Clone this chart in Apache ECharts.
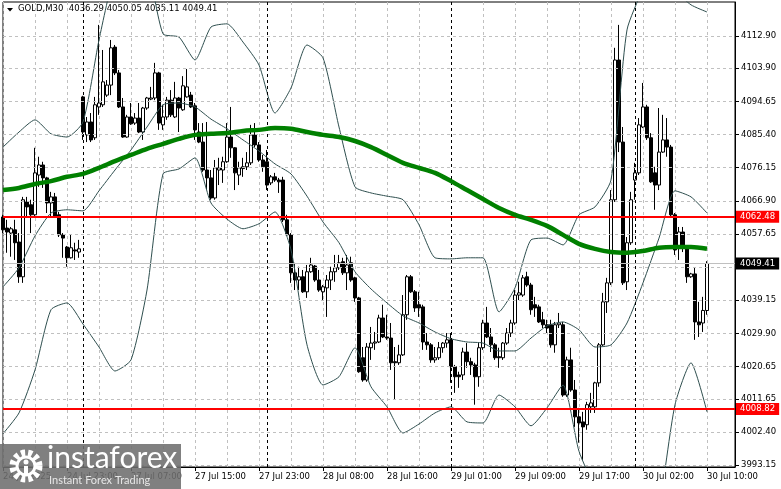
<!DOCTYPE html>
<html>
<head>
<meta charset="utf-8">
<title>GOLD,M30</title>
<script src="https://cdn.jsdelivr.net/npm/echarts@6/dist/echarts.min.js"></script>
<style>
html, body { margin: 0; padding: 0; background: #fff; }
#chart { width: 781px; height: 489px; }
</style>
</head>
<body>
<div id="chart"></div>
<script>
var symbolName = 'GOLD,M30';
var barCount = 184;

// time labels, one every 16 bars (M30)
var xLabels = ['24 Jul 2025', '24 Jul 23:00', '27 Jul 07:00', '27 Jul 15:00', '27 Jul 23:00', '28 Jul 08:00',
  '28 Jul 16:00', '29 Jul 01:00', '29 Jul 09:00', '29 Jul 17:00', '30 Jul 02:00', '30 Jul 10:00'];
var yTicks = [3993.15, 4002.40, 4011.65, 4020.65, 4029.90, 4039.15, 4048.40, 4057.65, 4066.90,
  4076.15, 4085.40, 4094.65, 4103.90, 4112.90];
var separatorBars = [20, 66, 112, 158];
var levelLines = [4062.48, 4008.82];

// [open, close, low, high]
var candles = [
  [4062.4,4058.8,4057.9,4063.0],[4059.3,4058.2,4052.4,4061.6],[4057.9,4059.1,4051.3,4059.6],[4058.8,4055.2,4050.4,4061.6],
  [4055.4,4045.7,4044.0,4057.9],[4045.7,4067.2,4044.0,4068.0],[4066.6,4065.2,4062.4,4068.0],[4065.8,4063.0,4057.9,4067.2],
  [4063.0,4074.7,4062.4,4081.7],[4074.1,4076.9,4070.8,4079.2],[4076.9,4073.3,4070.5,4077.8],[4073.3,4066.3,4063.5,4073.6],
  [4066.3,4068.0,4062.4,4069.4],[4068.0,4062.4,4062.1,4069.1],[4063.0,4057.4,4056.8,4063.8],[4057.4,4056.5,4051.0,4057.9],
  [4054.0,4051.0,4048.5,4054.3],[4051.0,4053.8,4050.8,4057.4],[4053.2,4052.9,4050.4,4055.2],[4052.6,4053.5,4051.0,4056.0],
  [4095.9,4086.1,4083.9,4096.2],[4085.3,4088.9,4083.3,4090.3],[4088.9,4083.9,4083.3,4091.4],[4084.5,4093.7,4083.9,4095.9],
  [4093.1,4094.2,4090.9,4116.0],[4093.7,4100.1,4093.1,4109.0],[4096.4,4099.2,4095.9,4100.6],[4099.2,4109.6,4096.4,4111.8],
  [4109.8,4102.6,4102.0,4110.4],[4102.6,4093.1,4092.8,4103.4],[4093.1,4084.7,4084.5,4095.6],[4084.7,4090.3,4084.5,4090.9],
  [4090.3,4088.4,4088.1,4094.2],[4088.6,4090.0,4088.1,4091.4],[4090.0,4086.1,4085.8,4094.2],[4086.1,4092.8,4083.9,4093.1],
  [4092.8,4095.6,4092.3,4095.9],[4095.3,4095.6,4095.0,4098.7],[4095.6,4102.6,4095.0,4105.4],[4102.6,4088.6,4086.7,4102.9],
  [4088.1,4090.3,4086.7,4093.7],[4090.3,4095.0,4089.5,4095.9],[4095.0,4090.9,4090.3,4097.8],[4090.3,4095.6,4090.0,4100.1],
  [4095.6,4092.8,4086.1,4095.9],[4092.3,4099.0,4092.0,4101.7],[4095.9,4098.7,4095.7,4103.7],[4096.4,4093.1,4092.8,4097.3],
  [4093.4,4086.7,4083.9,4094.2],[4086.1,4083.3,4083.0,4088.6],[4083.3,4075.5,4075.0,4088.6],[4075.5,4073.3,4069.9,4088.9],
  [4073.3,4067.7,4067.2,4075.5],[4067.7,4076.1,4067.2,4078.3],[4075.5,4076.1,4071.3,4078.9],[4075.5,4077.8,4071.9,4079.2],
  [4077.8,4084.7,4077.5,4088.6],[4084.7,4081.7,4078.9,4093.1],[4081.7,4074.7,4069.9,4081.9],[4074.1,4076.1,4071.3,4077.8],
  [4075.9,4076.4,4073.6,4078.9],[4076.4,4077.5,4075.5,4080.5],[4077.5,4085.3,4076.9,4088.1],[4085.3,4082.5,4081.9,4088.6],
  [4082.5,4078.3,4077.8,4083.3],[4078.3,4076.4,4075.0,4079.7],[4077.8,4071.3,4069.9,4081.1],[4071.9,4073.6,4071.3,4074.1],
  [4073.6,4072.7,4072.2,4074.7],[4072.7,4072.2,4069.1,4073.3],[4072.7,4061.6,4061.0,4073.6],[4061.6,4057.4,4057.2,4063.0],
  [4057.4,4046.8,4044.0,4057.9],[4046.8,4044.8,4042.0,4049.6],[4044.8,4045.7,4042.0,4048.5],[4045.7,4041.5,4041.2,4047.6],
  [4041.5,4047.1,4039.8,4049.0],[4047.1,4049.0,4046.8,4051.0],[4048.7,4044.8,4044.3,4049.0],[4044.8,4042.0,4041.5,4047.6],
  [4041.5,4042.9,4039.2,4043.4],[4042.6,4044.8,4034.5,4046.2],[4044.8,4047.1,4042.0,4048.5],[4047.1,4048.2,4044.3,4051.8],
  [4048.2,4049.6,4047.6,4051.8],[4049.9,4046.8,4046.2,4051.0],[4046.8,4049.0,4042.0,4051.8],[4049.6,4044.8,4044.3,4051.3],
  [4045.4,4039.8,4038.7,4045.7],[4039.8,4019.2,4018.9,4040.1],[4023.1,4016.9,4016.4,4026.1],[4016.9,4026.1,4016.4,4027.2],
  [4025.9,4027.2,4022.5,4031.7],[4027.2,4027.5,4025.3,4030.3],[4027.5,4034.2,4027.2,4035.1],[4034.2,4028.9,4028.6,4037.9],
  [4028.9,4028.6,4028.1,4035.1],[4028.6,4021.7,4019.7,4032.8],[4022.0,4021.7,4011.4,4026.1],[4021.7,4023.9,4021.1,4026.7],
  [4023.9,4035.1,4023.6,4040.6],[4035.1,4045.7,4033.7,4046.2],[4045.7,4041.5,4041.2,4046.2],[4041.5,4037.0,4035.9,4042.0],
  [4037.9,4037.0,4034.5,4041.5],[4037.3,4027.5,4025.3,4037.9],[4027.5,4026.7,4025.3,4030.0],[4026.7,4022.5,4021.7,4027.2],
  [4022.5,4023.1,4021.7,4026.1],[4023.1,4025.9,4022.5,4027.5],[4025.9,4027.2,4024.5,4027.5],[4027.2,4028.1,4025.9,4030.0],
  [4028.1,4020.6,4016.1,4030.0],[4020.6,4017.8,4013.3,4021.1],[4018.3,4017.8,4014.7,4019.2],[4018.3,4024.7,4016.9,4025.9],
  [4024.7,4022.0,4020.3,4027.2],[4022.0,4021.1,4018.3,4023.1],[4021.1,4017.8,4010.0,4021.7],[4017.8,4025.9,4015.0,4027.2],
  [4025.9,4032.8,4025.3,4033.7],[4032.8,4028.9,4028.6,4037.3],[4028.9,4026.7,4024.7,4031.4],[4026.7,4023.1,4022.5,4027.2],
  [4023.4,4023.1,4020.3,4025.9],[4023.1,4027.2,4022.5,4027.5],[4027.2,4030.0,4026.7,4031.4],[4030.0,4032.8,4028.9,4033.7],
  [4032.8,4040.6,4032.3,4042.0],[4040.6,4041.2,4039.2,4044.3],[4040.6,4045.4,4040.1,4046.2],[4045.7,4043.4,4042.9,4047.1],
  [4043.4,4036.5,4035.1,4044.0],[4037.9,4037.0,4034.5,4040.1],[4037.3,4033.1,4032.8,4037.9],[4033.7,4032.3,4031.4,4035.9],
  [4032.3,4031.4,4030.0,4033.7],[4032.3,4026.7,4025.9,4033.7],[4026.7,4032.3,4024.5,4033.1],[4032.3,4032.8,4031.4,4035.6],
  [4032.3,4012.7,4012.2,4033.1],[4012.7,4022.5,4012.2,4023.4],[4022.5,4014.1,4013.6,4025.9],[4014.1,4006.6,4003.8,4016.9],
  [4006.6,4004.9,3999.4,4009.1],[4005.2,4003.8,3994.6,4008.0],[4004.4,4010.0,4003.0,4010.8],[4009.4,4010.5,4007.7,4013.3],
  [4009.4,4016.1,4007.7,4016.4],[4016.1,4026.7,4015.0,4027.2],[4026.7,4038.7,4026.4,4041.2],[4038.7,4044.0,4035.6,4045.4],
  [4044.0,4067.2,4043.4,4069.9],[4067.2,4106.2,4066.6,4109.6],[4106.2,4083.3,4080.5,4116.0],[4083.3,4044.0,4043.4,4087.5],
  [4044.3,4055.2,4042.0,4056.8],[4055.2,4067.2,4054.6,4069.4],[4072.7,4074.7,4067.2,4077.5],[4074.7,4088.1,4074.1,4090.0],
  [4087.5,4093.1,4087.2,4099.8],[4093.1,4084.5,4083.9,4093.7],[4084.5,4072.2,4071.9,4085.8],[4074.7,4071.3,4064.4,4076.4],
  [4071.3,4080.5,4069.9,4092.8],[4080.5,4083.9,4080.3,4090.9],[4083.9,4081.9,4079.2,4090.0],[4081.9,4063.0,4062.4,4082.5],
  [4063.0,4053.2,4051.8,4063.5],[4053.8,4058.2,4050.4,4059.6],[4058.2,4053.8,4052.6,4059.6],[4053.8,4045.7,4044.0,4054.0],
  [4045.7,4046.5,4045.4,4046.8],[4046.5,4033.1,4028.1,4048.2],[4033.1,4032.3,4028.9,4038.7],[4032.8,4036.3,4030.3,4040.1],
  [4036.29,4049.41,4035.11,4050.05]
];

// indicator readings, every 4th bar
var bandBars = [0,4,8,12,16,20,24,28,32,36,40,44,48,52,56,60,64,68,72,76,80,84,88,92,96,100,104,108,112,116,120,
  124,128,132,136,140,144,148,152,156,160,164,168,172,176];
var upperBand = [4081.9,4086.1,4089.5,4085.6,4084.7,4088.9,4111.8,4131.0,4139.0,4133.0,4113.5,4112.6,4106.2,4115.4,4116.3,
  4111.2,4104.8,4091.4,4098.4,4110.4,4106.8,4087.5,4070.8,4069.1,4068.2,4067.2,4060.2,4051.0,4050.7,4051.0,4051.0,
  4035.9,4042.6,4056.0,4056.5,4054.6,4063.0,4065.2,4072.7,4114.6,4126.0,4134.1,4125.7,4121.6,4119.6];
var middleBand = [4042.9,4048.2,4057.1,4063.5,4064.4,4064.1,4069.7,4075.5,4081.1,4087.5,4093.7,4094.2,4093.1,4089.7,4087.0,
  4083.9,4080.8,4077.2,4074.4,4068.2,4061.0,4055.2,4047.1,4042.3,4038.4,4034.8,4032.8,4030.3,4028.4,4027.5,4027.2,
  4025.0,4025.0,4028.6,4032.0,4033.1,4030.9,4026.1,4026.7,4032.8,4044.0,4056.5,4069.7,4068.0,4063.5];
var lowerBand = [4001.9,4007.7,4019.7,4036.5,4038.4,4032.5,4026.1,4019.4,4022.5,4042.0,4074.4,4075.8,4078.9,4066.3,4061.8,
  4059.1,4060.5,4063.8,4053.2,4026.7,4015.5,4017.8,4025.9,4015.0,4009.4,4002.1,4004.6,4007.7,4009.4,4005.2,4004.9,
  4012.7,4009.4,4004.1,4009.1,4015.5,3997.0,3987.0,3980.7,3951.0,3962.0,3980.7,4010.0,4021.7,4008.0];
var maValues = [4069.9,4070.5,4071.6,4072.4,4073.6,4074.4,4076.1,4078.0,4079.7,4081.4,4082.8,4084.2,4085.3,4085.6,4085.8,
  4086.4,4086.7,4087.2,4087.0,4086.1,4085.3,4084.7,4083.6,4081.9,4079.7,4077.5,4076.1,4074.7,4072.4,4069.9,4067.4,
  4064.9,4063.0,4061.6,4059.9,4057.4,4054.9,4053.5,4052.6,4052.4,4052.9,4053.8,4054.0,4054.0,4053.5];

var categories = [];
for (var i = 0; i < barCount; i++) categories.push(String(i));
var last = candles[candles.length - 1];
var lastPrice = last[1];
var font = '"DejaVu Sans", sans-serif';

function pairs(vals) {
  return bandBars.map(function (b, k) { return [b, vals[k]]; });
}
function bandSeries(name, vals) {
  return {
    name: name, type: 'line', data: pairs(vals), symbol: 'none', smooth: 0.2, z: 4,
    lineStyle: { color: '#2f4f4f', width: 1 }, silent: true
  };
}
function priceFmt(p) { return p.value.toFixed(2); }

var gridLines = yTicks.map(function (v) { return { yAxis: v }; });
separatorBars.forEach(function (b) {
  gridLines.push({ xAxis: b, lineStyle: { color: '#000', type: [3, 3], width: 1 } });
});

var levelMarks = levelLines.map(function (v) {
  return { yAxis: v, lineStyle: { color: '#ff0000', width: 2, type: 'solid' },
    label: { backgroundColor: '#ff0000' } };
});
levelMarks.unshift({ yAxis: lastPrice, lineStyle: { color: '#c0c0c0', width: 1, type: 'solid' },
  label: { backgroundColor: '#000000' } });

var chart = echarts.init(document.getElementById('chart'));
var option = {
  backgroundColor: '#ffffff',
  animation: false,
  grid: { left: 3, right: 46, top: 2, bottom: 22, show: true, borderColor: '#000', borderWidth: 1,
    backgroundColor: '#fff' },
  xAxis: {
    type: 'category', data: categories, boundaryGap: false,
    axisLine: { show: true, lineStyle: { color: '#000' } },
    axisTick: { show: true, interval: 15, length: 4, lineStyle: { color: '#000' } },
    axisLabel: {
      interval: 15, align: 'left', margin: 5, color: '#000', fontFamily: font, fontSize: 8.5,
      formatter: function (v, idx) { return xLabels[idx / 16] || ''; }
    },
    splitLine: { show: true, interval: 7, lineStyle: { color: '#c0c0c0', type: [3, 3] } }
  },
  yAxis: {
    type: 'value', position: 'right', min: 3992.61, max: 4122.39,
    axisLine: { show: true, lineStyle: { color: '#000' } },
    axisTick: { show: true, length: 4, customValues: yTicks, lineStyle: { color: '#000' } },
    axisLabel: { customValues: yTicks, margin: 6, color: '#000', fontFamily: font, fontSize: 8.5,
      formatter: function (v) { return v.toFixed(2); } },
    splitLine: { show: false }
  },
  series: [
    {
      name: 'grid', type: 'line', data: [], z: 1, silent: true,
      markLine: {
        silent: true, symbol: ['none', 'none'], animation: false, label: { show: false },
        lineStyle: { color: '#c0c0c0', type: [3, 3], width: 1 },
        data: gridLines
      }
    },
    {
      name: symbolName, type: 'candlestick', data: candles, barWidth: 3, z: 3,
      itemStyle: { color: '#ffffff', color0: '#000000', borderColor: '#000000', borderColor0: '#000000',
        borderWidth: 1 }
    },
    bandSeries('BB upper', upperBand),
    bandSeries('BB middle', middleBand),
    bandSeries('BB lower', lowerBand),
    {
      name: 'MA', type: 'line', data: pairs(maValues), symbol: 'none', smooth: 0.3, z: 5, silent: true,
      lineStyle: { color: '#008000', width: 4.5 }
    },
    {
      name: 'levels', type: 'line', data: [], z: 6, clip: false, silent: true,
      markLine: {
        silent: true, symbol: ['none', 'none'], animation: false,
        label: { show: true, position: 'end', distance: 1, formatter: priceFmt, color: '#fff',
          fontFamily: font, fontSize: 8.5, padding: [2, 4, 1, 4] },
        data: levelMarks
      }
    }
  ],
  graphic: [
    { type: 'polygon', shape: { points: [[7, 8], [13, 8], [10, 11.5]] }, style: { fill: '#000' } },
    { type: 'text', left: 18, top: 4, style: {
      text: symbolName + '  ' + [last[0], last[3], last[2], last[1]].map(function (v) { return v.toFixed(2); }).join(' '),
      fill: '#000', font: '8.5px "DejaVu Sans", sans-serif' } },
    { type: 'rect', shape: { x: 0, y: 444, width: 181, height: 45 }, style: { fill: 'rgba(110,110,110,0.88)' }, z: 100 },
    { type: 'circle', shape: { cx: 26, cy: 466, r: 13 }, style: { fill: 'none', stroke: '#fff', lineWidth: 7, lineDash: [4, 3] }, z: 101 },
    { type: 'circle', shape: { cx: 26, cy: 466, r: 9 }, style: { fill: 'none', stroke: '#fff', lineWidth: 3 }, z: 101 },
    { type: 'circle', shape: { cx: 26, cy: 462, r: 2.5 }, style: { fill: '#fff' }, z: 101 },
    { type: 'rect', shape: { x: 24, y: 466, width: 4, height: 9 }, style: { fill: '#fff' }, z: 101 },
    { type: 'text', left: 47, top: 443, style: { text: 'instaforex', fill: '#fff', font: '30px Lato, sans-serif' }, z: 101 },
    { type: 'text', left: 49, top: 475, style: { text: 'Instant Forex Trading', fill: '#e6e6e6', font: '11px Lato, sans-serif' }, z: 101 }
  ]
};
chart.setOption(option);
</script>
</body>
</html>
